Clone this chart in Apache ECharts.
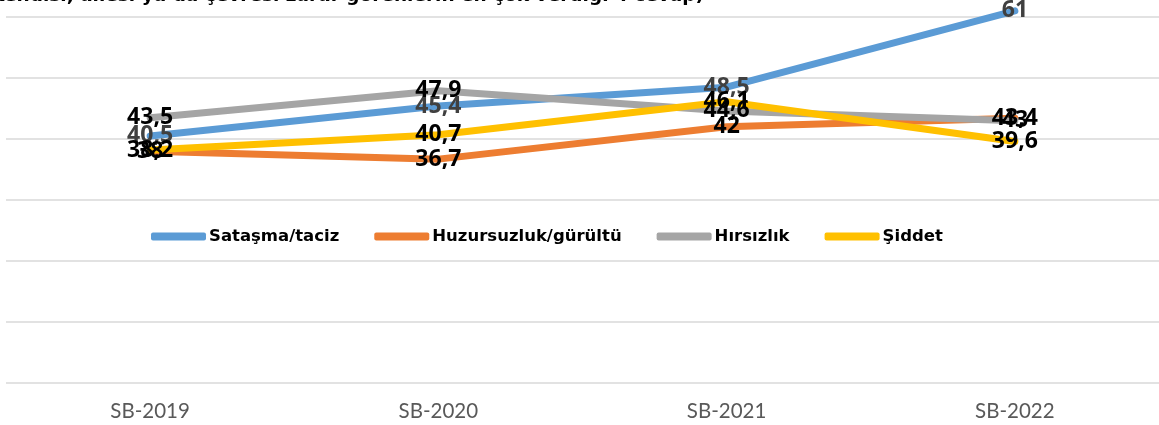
<!DOCTYPE html>
<html>
<head>
<meta charset="utf-8">
<script src="https://cdn.jsdelivr.net/npm/echarts@6/dist/echarts.min.js"></script>
<style>html,body{margin:0;padding:0;background:#fff}#c{width:1159px;height:425px}</style>
</head>
<body>
<div id="c"></div>
<script>
const categories = ['SB-2019', 'SB-2020', 'SB-2021', 'SB-2022'];
const seriesNames = ['Sataşma/taciz', 'Huzursuzluk/gürültü', 'Hırsızlık', 'Şiddet'];
const satasma = [40.5, 45.4, 48.5, 61];
const huzursuzluk = [38, 36.7, 42, 43.4];
const hirsizlik = [43.5, 47.9, 44.6, 43];
const siddet = [38.2, 40.7, 46.1, 39.6];
const titleText = '(Kendisi, ailesi ya da çevresi zarar görenlerin en çok verdiği 4 cevap)';

const colors = ['#5B9BD5', '#ED7D31', '#A5A5A5', '#FFC000'];
const labelColors = ['#404040', '#000000', '#000000', '#000000'];
const dataSets = [satasma, huzursuzluk, hirsizlik, siddet];

const chart = echarts.init(document.getElementById('c'));
chart.setOption({
  animation: false,
  graphic: [{
    type: 'text', right: 455, y: -4,
    style: { text: titleText, font: 'bold 18.5px "DejaVu Sans", sans-serif', fill: '#000', verticalAlign: 'middle', align: 'right' }
  }],
  legend: {
    left: 146, top: 223, itemGap: 35, itemWidth: 55, itemHeight: 8,
    icon: 'roundRect',
    textStyle: { fontFamily: 'DejaVu Sans', fontWeight: 'bold', fontSize: 16.5, color: '#000', padding: [0, 0, 0, -2] },
    data: seriesNames
  },
  grid: { left: 6, right: -7, top: 17, bottom: 42 },
  xAxis: {
    type: 'category', data: categories, boundaryGap: true,
    axisLine: { show: false }, axisTick: { show: false },
    axisLabel: { color: '#595959', fontFamily: 'Lato', fontSize: 20.5, margin: 18 }
  },
  yAxis: {
    type: 'value', min: 0, max: 60, interval: 10,
    axisLabel: { show: false }, axisLine: { show: false }, axisTick: { show: false },
    splitLine: { lineStyle: { color: '#D9D9D9', width: 1.5 } }
  },
  series: dataSets.map((d, i) => ({
    name: seriesNames[i], type: 'line', data: d, clip: false,
    symbol: 'circle', symbolSize: 1, showSymbol: true,
    itemStyle: { color: colors[i] },
    lineStyle: { color: colors[i], width: 7, cap: 'round', join: 'round' },
    label: {
      show: true, position: 'inside', offset: [0, 1],
      formatter: p => String(p.value).replace('.', ','),
      fontFamily: '"Open Sans", "Liberation Sans", sans-serif', fontWeight: 'bold', fontSize: 23, color: labelColors[i]
    },
    labelLayout: { hideOverlap: false }
  }))
});
</script>
</body>
</html>
